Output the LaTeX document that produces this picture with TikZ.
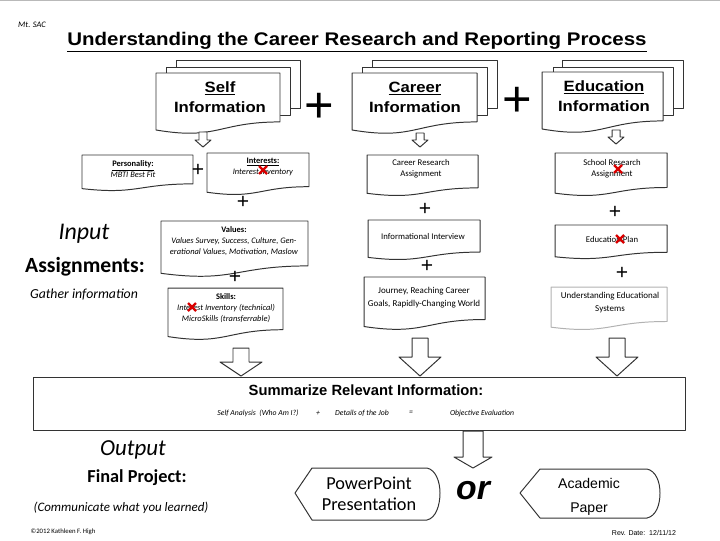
\documentclass[tikz,border=0pt]{standalone}
\usepackage{fontspec}
\setmainfont{Carlito}
\newfontfamily\arialfont{Liberation Sans}
\newfontfamily\widefont[FakeStretch=1.12]{Liberation Sans}
\usetikzlibrary{positioning,calc}

% flowchart "document" shape: left, top, right, bottom (pixels)
\newcommand{\docbox}[5][]{%
  \draw[docline,#1] (#2,#3) -- (#4,#3) -- (#4,{#3+0.802*(#5-#3)})
    .. controls ({(#2+#4)/2},{#3+0.802*(#5-#3)}) and ({(#2+#4)/2},{#3+1.107*(#5-#3)})
    .. (#2,{#3+0.934*(#5-#3)}) -- cycle;}
% hollow block arrow: x, top, head start, tip, shaft half width, head half width
\newcommand{\blockarrow}[6]{%
  \draw[docline] ({#1-#5},#2) -- ({#1+#5},#2) -- ({#1+#5},#3) -- ({#1+#6},#3)
    -- (#1,#4) -- ({#1-#6},#3) -- ({#1-#5},#3) -- cycle;}
% red cross-out mark
\newcommand{\redmark}[2]{%
  \draw[redx] ({#1-4},{#2-4}) -- ({#1+4},{#2+4}) ({#1+4},{#2-4}) -- ({#1-4},{#2+4});}

\begin{document}
\begin{tikzpicture}[x=0.025cm,y=-0.025cm,line join=round,
  docline/.style={draw=black!80,line width=0.7pt,fill=white},
  redx/.style={draw=red!85!black,line width=1.6pt},
  title/.style={font=\widefont\bfseries\fontsize{13}{15}\selectfont},
  doclabel/.style={font=\widefont\bfseries\fontsize{10.6}{14.2}\selectfont,align=center,inner sep=0pt},
  bigplus/.style={font=\arialfont\fontsize{36}{36}\selectfont,inner sep=0pt},
  smallplus/.style={font=\arialfont\fontsize{15}{15}\selectfont,inner sep=0pt},
  subtxt/.style={font=\fontsize{6}{7.6}\selectfont,align=center,inner sep=0pt},
  colbtxt/.style={font=\fontsize{6.2}{8}\selectfont,align=center,inner sep=0pt},
  sumtxt/.style={font=\itshape\fontsize{5.5}{6}\selectfont,inner sep=0pt}]
  \useasboundingbox (0,0) rectangle (720,540);
  \draw[gray!55,line width=1.2pt] (0,0.6) -- (720,0.6);

  \node[font=\itshape\fontsize{6}{7}\selectfont] (mtsac) at (32,25) {Mt. SAC};
  \node[title] (title) at (357,42) {\underline{Understanding the Career Research and Reporting Process}};

  % top stacks
  \draw[docline] (176,60) rectangle (300,108);
  \draw[docline] (166,67) rectangle (290,115);
  \docbox{156}{73}{280}{134}
  \node[doclabel] (self) at (220,97) {\underline{Self}\\Information};
  \node[bigplus] (plusa) at (319,108) {+};

  \draw[docline] (372,60) rectangle (497,108);
  \draw[docline] (362,67) rectangle (487,115);
  \docbox{352}{73}{477}{134}
  \node[doclabel] (career) at (415,97) {\underline{Career}\\Information};
  \node[bigplus] (plusb) at (517,102) {+};

  \draw[docline] (562,60) rectangle (683,108);
  \draw[docline] (553,67) rectangle (673,115);
  \docbox{542}{72}{663}{133}
  \node[doclabel] (educ) at (604,96) {\underline{Education}\\Information};

  \blockarrow{203}{132}{140}{147}{4}{8}
  \blockarrow{420}{133}{140}{147}{4}{8}
  \blockarrow{616}{130}{137}{144}{4}{8}

  % self column
  \docbox{82}{155}{193}{191}
  \node[subtxt] (pers) at (133,169) {\textbf{\underline{Personality:}}\\\textit{MBTI Best Fit}};
  \node[smallplus] (plusc) at (198,170) {+};
  \docbox{207}{153}{309}{195}
  \node[subtxt] (inter) at (263,167) {\textbf{\underline{Interests:}}\\\textit{Interest Inventory}};
  \redmark{263}{170}
  \node[smallplus] (plusd) at (243,202) {+};
  \docbox{161}{221}{308}{277}
  \node[subtxt] (vals) at (234,241) {\textbf{Values:}\\\textit{Values Survey, Success, Culture, Gen-}\\\textit{erational Values, Motivation, Maslow}};
  \node[smallplus] (pluse) at (235,277) {+};
  \docbox{168}{288}{283}{340}
  \node[subtxt] (skills) at (226,308) {\textbf{Skills:}\\\textit{Interest Inventory (technical)}\\\textit{MicroSkills (transferrable)}};
  \redmark{192}{307}

  % career column
  \docbox{367}{155}{478}{196}
  \node[colbtxt] (cra) at (421,169) {Career Research\\Assignment};
  \node[smallplus] (plusf) at (425,209) {+};
  \docbox{368}{220}{480}{260}
  \node[colbtxt] (ii) at (423,236) {Informational Interview};
  \node[smallplus] (plusg) at (427,266) {+};
  \docbox{364}{277}{485}{330}
  \node[colbtxt,font=\fontsize{6.4}{9.2}\selectfont] (journ) at (424,298) {Journey, Reaching Career\\Goals, Rapidly-Changing World};

  % education column
  \docbox{555}{153}{667}{196}
  \node[colbtxt] (sra) at (612,169) {School Research\\Assignment};
  \redmark{618}{169}
  \node[smallplus] (plush) at (615,212) {+};
  \docbox{555}{225}{667}{259}
  \node[colbtxt] (eplan) at (612,239) {Education Plan};
  \redmark{620}{239}
  \node[smallplus] (plusi) at (622,273) {+};
  \docbox[draw=gray!60]{551}{287}{667}{330}
  \node[colbtxt,font=\fontsize{6.4}{9.2}\selectfont] (ues) at (610,303) {Understanding Educational\\Systems};

  % left labels
  \node[font=\itshape\fontsize{17}{17}\selectfont] (input) at (84,234) {Input};
  \node[font=\bfseries\fontsize{15.4}{16}\selectfont] (assign) at (85,267) {Assignments:};
  \node[font=\itshape\fontsize{9.8}{10}\selectfont] (gather) at (84,295) {Gather information};

  \blockarrow{241}{348}{362}{376}{8}{21}
  \blockarrow{420}{338}{357}{376}{8}{21}
  \blockarrow{617}{338}{357}{376}{8}{21}

  % summary
  \draw[docline] (33,377) rectangle (685,430);
  \node[font=\arialfont\bfseries\fontsize{10.5}{12}\selectfont] (summ) at (366,390) {Summarize Relevant Information:};
  \node[sumtxt] (sa) at (258,413) {Self Analysis\ \ (Who Am I?)};
  \node[sumtxt] (sb) at (318,413) {+};
  \node[sumtxt] (sc) at (362,413) {Details of the Job};
  \node[sumtxt] (sd) at (411,413) {=};
  \node[sumtxt] (se) at (482,413) {Objective Evaluation};

  \blockarrow{473}{431}{457}{468}{10}{19}

  % output
  \node[font=\itshape\fontsize{16.3}{17}\selectfont] (output) at (133,450) {Output};
  \node[font=\bfseries\fontsize{13}{14}\selectfont] (final) at (137,478) {Final Project:};
  \node[font=\itshape\fontsize{9.2}{10}\selectfont] (comm) at (121,508) {(Communicate what you learned)};
  \node[font=\fontsize{4.8}{5}\selectfont] (copy) at (63,532) {\textcopyright2012 Kathleen F. High};

  \draw[docline] (295,493) -- (312,468) -- (427,468) .. controls (436,470) and (440,482) .. (440,493)
    .. controls (440,505) and (436,518) .. (427,520) -- (312,520) -- cycle;
  \node[font=\fontsize{13}{15}\selectfont,align=center] (ppt) at (369,494) {PowerPoint\\Presentation};
  \node[font=\arialfont\bfseries\itshape\fontsize{24}{24}\selectfont] (or) at (473,491) {or};
  \draw[docline] (520,493) -- (540,469) -- (647,469) .. controls (656,471) and (660,482) .. (660,493)
    .. controls (660,505) and (656,516) .. (647,518) -- (540,518) -- cycle;
  \node[font=\arialfont\fontsize{10}{17}\selectfont,align=center] (paper) at (589,497) {Academic\\Paper};
  \node[font=\arialfont\fontsize{5}{6}\selectfont] (rev) at (644,533) {Rev. Date:\ \ 12/11/12};
\end{tikzpicture}
\end{document}
